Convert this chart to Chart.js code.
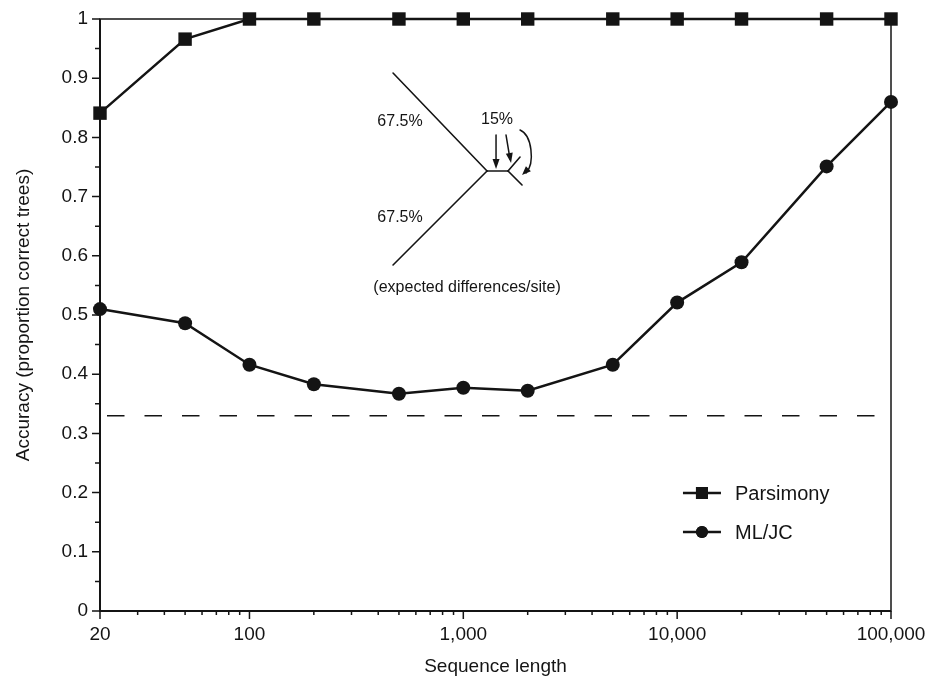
<!DOCTYPE html>
<html>
<head>
<meta charset="utf-8">
<script src="https://cdn.jsdelivr.net/npm/chart.js@4.4.1/dist/chart.umd.min.js"></script>
<style>
html,body{margin:0;padding:0;background:#fff;}
#wrap{width:929px;height:681px;}
</style>
</head>
<body>
<div id="wrap"><canvas id="c" width="929" height="681"></canvas></div>
<script>
// ---- data ----
const seqLengths = [20, 50, 100, 200, 500, 1000, 2000, 5000, 10000, 20000, 50000, 100000];
const parsimony  = [0.841, 0.966, 1, 1, 1, 1, 1, 1, 1, 1, 1, 1];
const mlJC       = [0.510, 0.486, 0.416, 0.383, 0.367, 0.377, 0.372, 0.416, 0.521, 0.589, 0.751, 0.860];
const chanceLevel = 0.33;
const xTickValues = [20, 100, 1000, 10000, 100000];
const yTickValues = [0, 0.1, 0.2, 0.3, 0.4, 0.5, 0.6, 0.7, 0.8, 0.9, 1];
const seriesLabels = ['Parsimony', 'ML/JC'];
const insetLabels = {branch: '67.5%', internal: '15%', caption: '(expected differences/site)'};

const INK = '#141414';
const FONT = '"Liberation Sans", Arial, Helvetica, sans-serif';

// minor ticks on log axis (2..9 × each decade within range)
const xMinor = [];
for (let d = 10; d <= 100000; d *= 10) {
  for (let m = 2; m <= 9; m++) {
    const v = m * d;
    if (v > 20 && v < 100000 && !xTickValues.includes(v)) xMinor.push(v);
  }
}
const yMinor = [];
for (let i = 0; i < 10; i++) yMinor.push(yTickValues[i] + 0.05);

const fmtX = v => Number(v).toLocaleString('en-US');
const fmtY = v => (Math.round(v * 10) / 10).toString();

const framePlugin = {
  id: 'frameTicks',
  beforeDatasetsDraw(chart) {
    const {ctx, chartArea: a, scales: {x, y}} = chart;
    ctx.save();
    ctx.strokeStyle = INK;
    ctx.lineWidth = 1.5;
    ctx.strokeRect(a.left, a.top, a.right - a.left, a.bottom - a.top);
    ctx.lineWidth = 2;
    ctx.beginPath();
    ctx.moveTo(a.left, a.top); ctx.lineTo(a.left, a.bottom); ctx.lineTo(a.right, a.bottom);
    ctx.stroke();
    ctx.lineWidth = 1.5;
    ctx.beginPath();
    xTickValues.forEach(v => { const px = x.getPixelForValue(v); ctx.moveTo(px, a.bottom); ctx.lineTo(px, a.bottom + 8); });
    xMinor.forEach(v => { const px = x.getPixelForValue(v); ctx.moveTo(px, a.bottom); ctx.lineTo(px, a.bottom + 4); });
    yTickValues.forEach(v => { const py = y.getPixelForValue(v); ctx.moveTo(a.left, py); ctx.lineTo(a.left - 8, py); });
    yMinor.forEach(v => { const py = y.getPixelForValue(v); ctx.moveTo(a.left, py); ctx.lineTo(a.left - 5, py); });
    ctx.stroke();
    ctx.restore();
  }
};

function arrowHead(ctx, x0, y0, x1, y1, len, wid) {
  const ang = Math.atan2(y1 - y0, x1 - x0);
  ctx.beginPath();
  ctx.moveTo(x1, y1);
  ctx.lineTo(x1 - len * Math.cos(ang) + wid * Math.sin(ang), y1 - len * Math.sin(ang) - wid * Math.cos(ang));
  ctx.lineTo(x1 - len * Math.cos(ang) - wid * Math.sin(ang), y1 - len * Math.sin(ang) + wid * Math.cos(ang));
  ctx.closePath();
  ctx.fill();
}

const insetPlugin = {
  id: 'inset',
  afterDraw(chart) {
    const {ctx, chartArea: a} = chart;
    const jx = a.left + 0.4893 * (a.right - a.left);
    const jy = a.top + 0.2568 * (a.bottom - a.top);
    const P = (dx, dy) => [jx + dx, jy + dy];
    ctx.save();
    ctx.strokeStyle = INK; ctx.fillStyle = INK;
    ctx.lineWidth = 1.6; ctx.lineCap = 'round';
    const seg = (p, q) => { ctx.beginPath(); ctx.moveTo(...p); ctx.lineTo(...q); ctx.stroke(); };
    seg(P(-94, -98), P(0, 0));
    seg(P(-94, 94), P(0, 0));
    seg(P(0, 0), P(21, 0));
    seg(P(21, 0), P(33, -14));
    seg(P(21, 0), P(35, 14));
    // arrows
    ctx.lineWidth = 1.5;
    seg(P(9, -36), P(9, -6));
    arrowHead(ctx, ...P(9, -36), ...P(9, -2), 10, 3.5);
    seg(P(19, -36), P(23, -12));
    arrowHead(ctx, ...P(19, -36), ...P(24, -8), 10, 3.5);
    ctx.beginPath();
    ctx.moveTo(...P(33, -41));
    ctx.bezierCurveTo(...P(45, -36), ...P(48, -8), ...P(39, 2));
    ctx.stroke();
    arrowHead(ctx, ...P(45, -6), ...P(35, 4), 9, 3.5);
    // labels
    ctx.font = '16px ' + FONT;
    ctx.textAlign = 'center'; ctx.textBaseline = 'middle';
    ctx.fillText(insetLabels.branch, ...P(-87, -49));
    ctx.fillText(insetLabels.internal, ...P(10, -51));
    ctx.fillText(insetLabels.branch, ...P(-87, 47));
    ctx.fillText(insetLabels.caption, ...P(-20, 117));
    ctx.restore();
  }
};

const legendPlugin = {
  id: 'innerLegend',
  afterDraw(chart) {
    const {ctx, chartArea: a} = chart;
    const lx = a.left + 0.737 * (a.right - a.left);
    let ly = a.top + 0.8007 * (a.bottom - a.top);
    ctx.save();
    chart.data.datasets.forEach(ds => {
      if (!seriesLabels.includes(ds.label)) return;
      ctx.strokeStyle = INK; ctx.fillStyle = INK; ctx.lineWidth = 2.5;
      ctx.beginPath(); ctx.moveTo(lx, ly); ctx.lineTo(lx + 38, ly); ctx.stroke();
      Chart.helpers.drawPoint(ctx, {pointStyle: ds.pointStyle, radius: ds.pointStyle === 'rect' ? 8.5 : 6, borderWidth: 0}, lx + 19, ly);
      ctx.fill();
      ctx.font = '20px ' + FONT;
      ctx.textAlign = 'left'; ctx.textBaseline = 'middle';
      ctx.fillText(ds.label, lx + 52, ly + 1);
      ly += 39;
    });
    ctx.restore();
  }
};

const mk = ys => seqLengths.map((x, i) => ({x, y: ys[i]}));

new Chart(document.getElementById('c'), {
  type: 'line',
  data: {
    datasets: [
      {label: seriesLabels[0], data: mk(parsimony), borderColor: INK, backgroundColor: INK, clip: false,
       borderWidth: 2.5, pointStyle: 'rect', pointRadius: 9.5, pointBorderWidth: 0, tension: 0},
      {label: seriesLabels[1], data: mk(mlJC), borderColor: INK, backgroundColor: INK, clip: false,
       borderWidth: 2.5, pointStyle: 'circle', pointRadius: 7, pointBorderWidth: 0, tension: 0},
      {label: 'chance', data: [{x: seqLengths[0], y: chanceLevel}, {x: seqLengths[seqLengths.length - 1], y: chanceLevel}],
       borderColor: INK, borderWidth: 1.5, borderDash: [17.5, 20], borderDashOffset: 30.5, pointRadius: 0}
    ]
  },
  options: {
    responsive: false, animation: false,
    layout: {padding: {left: 0, right: 38, top: 19, bottom: 0}},
    plugins: {legend: {display: false}, tooltip: {enabled: false}},
    scales: {
      x: {
        type: 'logarithmic', min: 20, max: 100000,
        afterBuildTicks: s => { s.ticks = xTickValues.map(v => ({value: v})); },
        afterFit: s => { s.height = 70; s.paddingLeft = 0; s.paddingRight = 0; },
        grid: {display: false, drawTicks: false},
        border: {display: false},
        ticks: {color: INK, font: {family: FONT, size: 19}, padding: 12, maxRotation: 0, autoSkip: false,
                callback: v => fmtX(v)},
        title: {display: true, text: 'Sequence length', color: INK, font: {family: FONT, size: 19}, padding: {top: 0, bottom: 3}}
      },
      y: {
        min: 0, max: 1,
        afterBuildTicks: s => { s.ticks = yTickValues.map(v => ({value: v})); },
        afterFit: s => { s.width = 100; s.paddingTop = 0; s.paddingBottom = 0; },
        grid: {display: false, drawTicks: false},
        border: {display: false},
        ticks: {color: INK, font: {family: FONT, size: 19}, padding: 12, autoSkip: false,
                callback: v => fmtY(v)},
        title: {display: true, text: 'Accuracy (proportion correct trees)', color: INK, font: {family: FONT, size: 19}, padding: {top: 12, bottom: 0}}
      }
    }
  },
  plugins: [framePlugin, insetPlugin, legendPlugin]
});
</script>
</body>
</html>
